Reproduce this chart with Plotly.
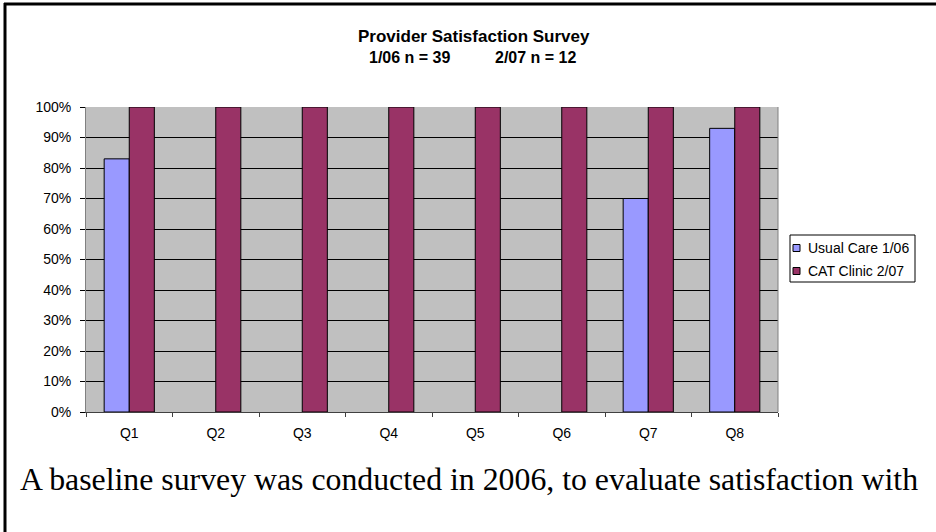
import plotly.graph_objects as go

# Survey results (share of "satisfied" responses per question)
questions = ["Q1", "Q2", "Q3", "Q4", "Q5", "Q6", "Q7", "Q8"]
usual_care_0106 = [0.83, None, None, None, None, None, 0.70, 0.93]
cat_clinic_0207 = [1.0, 1.0, 1.0, 1.0, 1.0, 1.0, 1.0, 1.0]
series_names = ["Usual Care 1/06", "CAT Clinic 2/07"]
series_colors = ["#9999FF", "#993366"]
y_tick_values = [0.0, 0.1, 0.2, 0.3, 0.4, 0.5, 0.6, 0.7, 0.8, 0.9, 1.0]
y_tick_labels = ["0%", "10%", "20%", "30%", "40%", "50%", "60%", "70%", "80%", "90%", "100%"]
title_line1 = "Provider Satisfaction Survey"
title_line2 = ["1/06 n = 39", "2/07 n = 12"]
caption = "A baseline survey was conducted in 2006, to evaluate satisfaction with"

W, H = 936, 532
PL, PR, PT, PB = 86, 778, 107, 412  # plot area in pixels

SANS = "Liberation Sans, Arial, sans-serif"
SERIF = "Liberation Serif, Times New Roman, serif"


def fx(px):
    return (px - PL) / (PR - PL)


def fy(py):
    return (PB - py) / (PB - PT)


fig = go.Figure()
for name, vals, color in zip(series_names, [usual_care_0106, cat_clinic_0207], series_colors):
    fig.add_trace(go.Bar(
        x=questions, y=vals, name=name, showlegend=False,
        marker=dict(color=color, line=dict(color="black", width=1)),
    ))

shapes = [
    # outer frame (top and left rules)
    dict(type="line", xref="paper", yref="paper", x0=fx(4), x1=fx(940), y0=fy(4), y1=fy(4),
         line=dict(color="black", width=3)),
    dict(type="line", xref="paper", yref="paper", x0=fx(5), x1=fx(5), y0=fy(3), y1=fy(540),
         line=dict(color="black", width=3)),
    # right border of the plot area
    dict(type="line", xref="paper", yref="paper", x0=1, x1=1, y0=0, y1=1,
         line=dict(color="#808080", width=1)),
    # legend box
    dict(type="rect", xref="paper", yref="paper", x0=fx(790), x1=fx(915), y0=fy(235), y1=fy(282),
         line=dict(color="black", width=1), fillcolor="white"),
]


def label(text, px, py, size, family=SANS, xanchor="center"):
    return dict(text=text, x=fx(px), y=fy(py), xref="paper", yref="paper",
                xanchor=xanchor, yanchor="middle", showarrow=False,
                font=dict(family=family, size=size, color="black"))


annotations = [
    label("<b>" + title_line1 + "</b>", 474, 37, 17),
    label("<b>" + title_line2[0] + "</b>", 409, 57, 16),
    label("<b>" + title_line2[1] + "</b>", 535, 57, 16),
    label(caption, 18, 479, 31.8, family=SERIF, xanchor="left"),
]

legend_rows = [248, 271]
for name, color, cy in zip(series_names, series_colors, legend_rows):
    shapes.append(dict(type="rect", xref="paper", yref="paper",
                       x0=fx(793), x1=fx(800), y0=fy(cy - 3.5), y1=fy(cy + 3.5),
                       fillcolor=color, line=dict(color="black", width=1)))
    annotations.append(label(name, 806, cy, 14, xanchor="left"))

fig.update_layout(
    width=W, height=H,
    margin=dict(l=PL, r=W - PR, t=PT, b=H - PB, pad=0),
    paper_bgcolor="white", plot_bgcolor="#C0C0C0",
    barmode="group", bargap=0.42, bargroupgap=0,
    showlegend=False,
    shapes=shapes, annotations=annotations,
    font=dict(family=SANS, size=14, color="black"),
)
fig.update_xaxes(
    type="category", showgrid=False, showline=True, linecolor="#404040", linewidth=1,
    ticks="outside", tickson="boundaries", ticklen=4, tickcolor="#404040",
    tickfont=dict(family=SANS, size=14, color="black"), ticklabelstandoff=8,
)
fig.update_yaxes(
    range=[0, 1], tickvals=y_tick_values, ticktext=y_tick_labels,
    showgrid=True, gridcolor="black", gridwidth=1, zeroline=False,
    showline=True, linecolor="#808080", linewidth=1,
    ticks="outside", ticklen=5, tickcolor="black", ticklabelstandoff=6,
    tickfont=dict(family=SANS, size=14, color="black"),
)

fig.write_html("out.html")
